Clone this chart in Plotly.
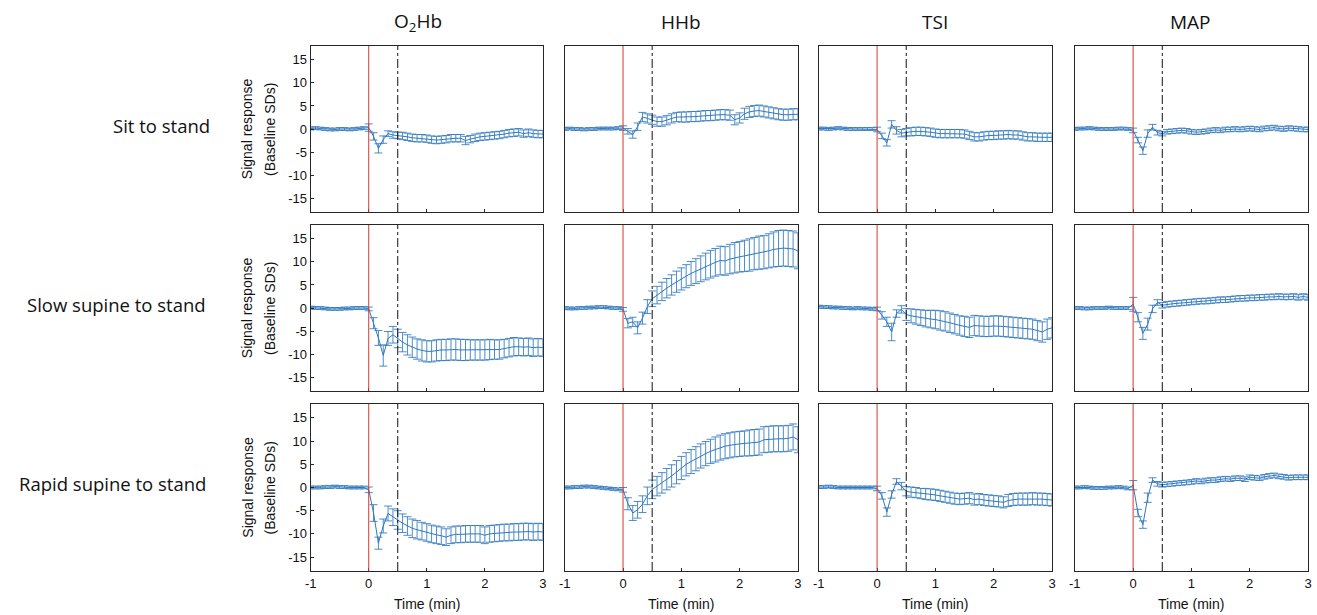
import plotly.graph_objects as go

W, H = 1317, 615

TIME = [-1.0, -0.917, -0.833, -0.75, -0.667, -0.583, -0.5, -0.417, -0.333, -0.25, -0.167, -0.083,
        0.0, 0.083, 0.167, 0.25, 0.333, 0.417, 0.5, 0.583, 0.667, 0.75, 0.833, 0.917,
        1.0, 1.083, 1.167, 1.25, 1.333, 1.417, 1.5, 1.583, 1.667, 1.75, 1.833, 1.917,
        2.0, 2.083, 2.167, 2.25, 2.333, 2.417, 2.5, 2.583, 2.667, 2.75, 2.833, 2.917, 3.0]

SIGNALS = ["O<sub>2</sub>Hb", "HHb", "TSI", "MAP"]
CONDITIONS = ["Sit to stand", "Slow supine to stand", "Rapid supine to stand"]
X_TICKS = [-1, 0, 1, 2, 3]
Y_TICKS = [-15, -10, -5, 0, 5, 10, 15]

# ---- Sit to stand ----
sit_o2hb = [0.1, 0.2, 0.1, 0.0, -0.1, -0.1, 0.0, 0.0, -0.1, 0.0, 0.1, 0.2,
            0.3, -1.6, -4.2, -2.3, -1.0, -1.3, -1.4, -1.5, -1.7, -1.9, -2.0, -2.0,
            -2.1, -2.3, -2.4, -2.3, -2.2, -2.0, -2.0, -2.0, -2.5, -2.2, -1.9, -1.7,
            -1.6, -1.5, -1.4, -1.3, -1.1, -0.9, -0.8, -0.7, -1.0, -0.8, -1.0, -1.1, -1.1]
sit_o2hb_err = [0.3, 0.3, 0.3, 0.3, 0.3, 0.3, 0.3, 0.3, 0.3, 0.3, 0.3, 0.3,
                0.8, 0.8, 1.0, 0.8, 0.6, 0.7, 0.7, 0.8, 0.8, 0.8, 0.8, 0.8,
                0.8, 0.8, 0.8, 0.8, 0.8, 0.8, 0.8, 0.8, 0.9, 0.8, 0.8, 0.8,
                0.8, 0.8, 0.8, 0.8, 0.8, 0.8, 0.8, 0.8, 0.8, 0.8, 0.8, 0.8, 0.8]
sit_hhb = [0.0, 0.1, 0.0, 0.0, -0.1, 0.0, 0.0, 0.1, 0.1, 0.1, 0.1, 0.2,
           0.2, -0.5, -1.2, 0.5, 2.6, 2.3, 2.0, 1.6, 1.6, 1.9, 2.3, 2.6,
           2.6, 2.6, 2.7, 2.7, 2.8, 2.9, 2.9, 3.0, 3.1, 3.1, 3.0, 2.0,
           2.4, 3.3, 3.7, 3.9, 4.0, 3.8, 3.6, 3.4, 3.2, 3.1, 3.1, 3.2, 3.2]
sit_hhb_err = [0.3, 0.3, 0.3, 0.3, 0.3, 0.3, 0.3, 0.3, 0.3, 0.3, 0.3, 0.3,
               0.5, 0.6, 0.8, 0.8, 1.0, 1.0, 1.0, 1.0, 1.0, 1.0, 1.0, 1.0,
               1.1, 1.1, 1.1, 1.1, 1.1, 1.1, 1.1, 1.1, 1.1, 1.1, 1.1, 1.1,
               1.1, 1.2, 1.2, 1.2, 1.2, 1.2, 1.2, 1.2, 1.2, 1.2, 1.2, 1.2, 1.2]
sit_tsi = [0.1, 0.1, 0.0, 0.1, 0.2, 0.1, 0.0, 0.0, 0.0, 0.0, 0.0, 0.0,
           -0.1, -1.5, -3.0, 1.0, -0.3, -0.9, -0.7, -0.6, -0.5, -0.5, -0.6, -0.7,
           -0.9, -1.0, -1.0, -1.0, -1.0, -1.0, -1.1, -1.4, -1.7, -1.7, -1.5, -1.4,
           -1.4, -1.3, -1.3, -1.2, -1.3, -1.3, -1.5, -1.7, -1.7, -1.8, -1.8, -1.8, -1.8]
sit_tsi_err = [0.3, 0.3, 0.3, 0.3, 0.3, 0.3, 0.3, 0.3, 0.3, 0.3, 0.3, 0.3,
               0.5, 0.6, 0.7, 0.8, 0.8, 0.8, 0.8, 0.9, 0.9, 0.9, 0.9, 0.9,
               0.9, 0.9, 0.9, 0.9, 0.9, 0.9, 0.9, 0.9, 0.9, 0.9, 0.9, 0.9,
               0.9, 0.9, 0.9, 0.9, 0.9, 0.9, 0.9, 0.9, 0.9, 0.9, 0.9, 0.9, 0.9]
sit_map = [0.0, 0.1, 0.1, 0.2, 0.1, 0.0, 0.0, 0.0, 0.0, 0.1, 0.1, 0.0,
           -0.3, -2.4, -4.7, -1.0, 0.4, -0.8, -1.0, -0.6, -0.5, -0.4, -0.3, -0.4,
           -0.6, -0.7, -0.6, -0.5, -0.3, -0.2, -0.3, -0.1, -0.1, 0.0, -0.1, 0.0,
           0.1, 0.0, -0.1, 0.1, 0.2, 0.3, 0.1, 0.0, 0.2, 0.1, 0.0, -0.1, -0.1]
sit_map_err = [0.3, 0.3, 0.3, 0.3, 0.3, 0.3, 0.3, 0.3, 0.3, 0.3, 0.3, 0.3,
               0.5, 0.6, 0.8, 0.8, 0.6, 0.5, 0.5, 0.5, 0.5, 0.5, 0.5, 0.5,
               0.5, 0.5, 0.5, 0.5, 0.5, 0.5, 0.5, 0.5, 0.5, 0.5, 0.5, 0.5,
               0.5, 0.5, 0.5, 0.5, 0.5, 0.5, 0.5, 0.5, 0.5, 0.5, 0.5, 0.5, 0.5]

# ---- Slow supine to stand ----
slow_o2hb = [0.1, 0.0, 0.0, -0.1, -0.2, -0.2, -0.2, -0.1, -0.1, 0.0, 0.0, 0.0,
             -0.2, -3.3, -6.5, -10.3, -6.6, -5.8, -6.6, -7.4, -8.0, -8.5, -8.9, -9.2,
             -9.4, -9.4, -9.2, -9.1, -9.1, -9.0, -9.0, -9.1, -9.1, -9.1, -9.1, -9.1,
             -9.1, -9.0, -9.0, -9.0, -8.8, -8.6, -8.4, -8.4, -8.5, -8.4, -8.6, -8.5, -8.6]
slow_o2hb_err = [0.3, 0.3, 0.3, 0.3, 0.3, 0.3, 0.3, 0.3, 0.3, 0.3, 0.3, 0.3,
                 0.4, 1.2, 1.6, 2.3, 1.5, 1.8, 2.0, 2.1, 2.2, 2.2, 2.2, 2.3,
                 2.3, 2.3, 2.3, 2.3, 2.3, 2.3, 2.3, 2.3, 2.3, 2.2, 2.2, 2.2,
                 2.2, 2.2, 2.1, 2.1, 2.0, 2.0, 2.0, 1.9, 1.9, 1.9, 1.9, 1.9, 1.9]
slow_hhb = [0.0, -0.1, -0.1, 0.0, 0.0, 0.1, 0.1, 0.2, 0.2, 0.1, 0.0, 0.0,
            -0.3, -3.3, -3.0, -4.3, -2.2, 0.3, 2.0, 2.8, 3.6, 4.3, 5.0, 5.7,
            6.3, 6.9, 7.5, 8.0, 8.5, 9.0, 9.5, 9.9, 10.3, 10.2, 10.6, 10.9,
            11.1, 11.3, 11.5, 11.8, 12.0, 12.1, 12.4, 12.7, 12.9, 13.0, 12.9, 12.8, 12.4]
slow_hhb_err = [0.3, 0.3, 0.3, 0.3, 0.3, 0.3, 0.3, 0.3, 0.3, 0.3, 0.3, 0.3,
                0.4, 1.0, 1.0, 1.3, 1.3, 1.5, 1.7, 1.9, 2.0, 2.1, 2.2, 2.3,
                2.4, 2.5, 2.6, 2.7, 2.8, 2.9, 3.0, 3.0, 3.1, 3.1, 3.2, 3.3,
                3.3, 3.4, 3.5, 3.5, 3.6, 3.6, 3.7, 3.8, 3.9, 3.9, 3.9, 3.9, 3.9]
slow_tsi = [0.3, 0.2, 0.2, 0.1, 0.1, 0.0, 0.0, -0.1, 0.0, -0.1, -0.1, -0.2,
            -0.2, -1.6, -3.0, -5.2, -1.2, -0.3, -1.4, -1.7, -1.9, -2.1, -2.3, -2.4,
            -2.5, -2.7, -2.9, -3.2, -3.5, -3.8, -4.0, -4.2, -3.8, -3.9, -4.0, -4.0,
            -3.9, -3.9, -4.0, -4.1, -4.2, -4.3, -4.4, -4.5, -4.6, -4.9, -5.2, -4.6, -4.3]
slow_tsi_err = [0.3, 0.3, 0.3, 0.3, 0.3, 0.3, 0.3, 0.3, 0.3, 0.3, 0.3, 0.3,
                0.4, 0.8, 1.0, 1.9, 0.8, 0.8, 1.3, 1.5, 1.6, 1.7, 1.8, 1.9,
                2.0, 2.1, 2.1, 2.1, 2.1, 2.1, 2.2, 2.2, 2.2, 2.2, 2.2, 2.2,
                2.2, 2.2, 2.2, 2.2, 2.2, 2.2, 2.2, 2.2, 2.2, 2.2, 2.2, 2.2, 2.2]
slow_map = [0.0, 0.0, -0.1, -0.1, 0.0, 0.0, 0.0, 0.1, 0.0, 0.0, 0.0, 0.0,
            0.8, -2.0, -5.5, -3.5, -0.2, 1.2, 0.6, 0.8, 0.9, 1.0, 1.1, 1.2,
            1.3, 1.4, 1.5, 1.5, 1.6, 1.7, 1.8, 1.8, 1.9, 2.0, 2.1, 2.1,
            2.2, 2.2, 2.3, 2.3, 2.4, 2.4, 2.5, 2.4, 2.4, 2.5, 2.3, 2.5, 2.3]
slow_map_err = [0.3, 0.3, 0.3, 0.3, 0.3, 0.3, 0.3, 0.3, 0.3, 0.3, 0.3, 0.3,
                1.5, 1.0, 1.3, 1.3, 0.8, 0.6, 0.6, 0.6, 0.6, 0.6, 0.6, 0.6,
                0.6, 0.6, 0.6, 0.6, 0.6, 0.6, 0.6, 0.6, 0.6, 0.6, 0.6, 0.6,
                0.6, 0.6, 0.6, 0.6, 0.6, 0.6, 0.6, 0.6, 0.6, 0.6, 0.6, 0.6, 0.6]

# ---- Rapid supine to stand ----
rapid_o2hb = [0.0, 0.0, 0.0, 0.1, 0.1, 0.2, 0.1, 0.1, 0.0, 0.0, 0.0, 0.0,
              -0.5, -5.5, -12.0, -8.3, -5.6, -6.4, -7.0, -7.7, -8.3, -8.8, -9.1, -9.4,
              -9.7, -10.0, -10.2, -10.4, -10.7, -10.3, -10.1, -10.1, -10.0, -10.0, -10.0, -10.0,
              -10.3, -10.0, -9.9, -9.8, -9.7, -9.7, -9.6, -9.6, -9.5, -9.5, -9.6, -9.5, -9.6]
rapid_o2hb_err = [0.3, 0.3, 0.3, 0.3, 0.3, 0.3, 0.3, 0.3, 0.3, 0.3, 0.3, 0.3,
                  0.6, 1.8, 1.3, 1.5, 1.6, 1.8, 2.0, 2.0, 2.0, 2.0, 2.0, 1.9,
                  1.9, 1.9, 1.9, 1.9, 1.8, 1.8, 1.8, 1.8, 1.8, 1.8, 1.8, 1.8,
                  1.8, 1.8, 1.8, 1.8, 1.8, 1.8, 1.8, 1.8, 1.8, 1.8, 1.8, 1.8, 1.8]
rapid_hhb = [0.0, 0.0, 0.1, 0.1, 0.2, 0.2, 0.1, 0.0, -0.1, -0.2, -0.3, -0.4,
             -0.5, -3.5, -5.5, -4.8, -3.6, -1.8, -0.4, 0.3, 1.0, 1.8, 2.5, 3.3,
             4.2, 5.0, 5.6, 6.2, 6.8, 7.3, 7.8, 8.2, 8.6, 8.9, 9.1, 9.3,
             9.4, 9.5, 9.6, 9.7, 9.8, 10.3, 10.4, 10.5, 10.5, 10.5, 10.6, 10.9, 10.3]
rapid_hhb_err = [0.3, 0.3, 0.3, 0.3, 0.3, 0.3, 0.3, 0.3, 0.3, 0.3, 0.3, 0.3,
                 0.5, 1.3, 1.6, 1.8, 1.8, 1.9, 2.0, 2.1, 2.2, 2.3, 2.4, 2.5,
                 2.5, 2.5, 2.6, 2.6, 2.6, 2.6, 2.6, 2.7, 2.7, 2.7, 2.7, 2.7,
                 2.7, 2.7, 2.8, 2.8, 2.8, 2.8, 2.8, 2.8, 2.8, 2.8, 2.8, 2.8, 2.8]
rapid_tsi = [0.1, 0.1, 0.2, 0.1, 0.0, 0.0, 0.0, 0.0, 0.0, 0.0, 0.0, 0.0,
             -0.2, -1.8, -5.3, -1.5, 1.3, 0.3, -0.8, -1.0, -1.1, -1.3, -1.4, -1.5,
             -1.6, -1.8, -2.0, -2.2, -2.4, -2.5, -2.4, -2.3, -2.6, -2.5, -2.7, -2.8,
             -2.9, -3.0, -3.2, -2.8, -2.6, -2.5, -2.5, -2.5, -2.4, -2.5, -2.5, -2.6, -2.7]
rapid_tsi_err = [0.3, 0.3, 0.3, 0.3, 0.3, 0.3, 0.3, 0.3, 0.3, 0.3, 0.3, 0.3,
                 0.5, 0.7, 0.9, 0.8, 0.6, 0.8, 1.0, 1.1, 1.1, 1.1, 1.2, 1.2,
                 1.2, 1.2, 1.2, 1.2, 1.2, 1.2, 1.2, 1.2, 1.2, 1.2, 1.2, 1.2,
                 1.2, 1.2, 1.2, 1.3, 1.3, 1.3, 1.3, 1.3, 1.3, 1.3, 1.3, 1.3, 1.3]
rapid_map = [0.0, 0.0, 0.1, 0.0, -0.1, -0.1, -0.1, 0.0, 0.0, 0.1, 0.0, -0.2,
             0.5, -5.5, -8.0, -2.2, 1.6, 0.8, 0.6, 0.7, 0.8, 0.9, 1.0, 1.1,
             1.2, 1.4, 1.3, 1.5, 1.6, 1.6, 1.8, 1.9, 1.8, 2.0, 2.0, 1.8,
             2.2, 2.1, 2.0, 2.3, 2.5, 2.6, 2.4, 2.3, 2.1, 2.2, 2.2, 2.2, 2.2]
rapid_map_err = [0.3, 0.3, 0.3, 0.3, 0.3, 0.3, 0.3, 0.3, 0.3, 0.3, 0.3, 0.3,
                 1.0, 0.8, 0.8, 1.0, 0.5, 0.5, 0.5, 0.5, 0.5, 0.5, 0.5, 0.5,
                 0.5, 0.5, 0.5, 0.5, 0.5, 0.5, 0.5, 0.5, 0.5, 0.5, 0.5, 0.5,
                 0.5, 0.5, 0.5, 0.5, 0.5, 0.5, 0.5, 0.5, 0.5, 0.5, 0.5, 0.5, 0.5]

PANELS = [
    [(sit_o2hb, sit_o2hb_err), (sit_hhb, sit_hhb_err), (sit_tsi, sit_tsi_err), (sit_map, sit_map_err)],
    [(slow_o2hb, slow_o2hb_err), (slow_hhb, slow_hhb_err), (slow_tsi, slow_tsi_err), (slow_map, slow_map_err)],
    [(rapid_o2hb, rapid_o2hb_err), (rapid_hhb, rapid_hhb_err), (rapid_tsi, rapid_tsi_err), (rapid_map, rapid_map_err)],
]

# layout geometry (pixels)
COL_PX = [(307, 541), (563, 798), (819, 1054), (1077, 1312)]
ROW_PX = [(46, 212), (225, 391), (404, 571)]
ROW_LABEL_RIGHT = [208, 204, 204]

LINE_C = "#2F78BE"
ERR_C = "rgba(47,120,190,0.85)"
AXIS_C = "#262626"
TICK_FONT = dict(family="Liberation Sans, Arial", size=13, color="#111")

fig = go.Figure()
layout = {}
annotations = []
shapes = []

for r in range(3):
    for c in range(4):
        idx = r * 4 + c + 1
        xa = "x" if idx == 1 else f"x{idx}"
        ya = "y" if idx == 1 else f"y{idx}"
        xkey = "xaxis" if idx == 1 else f"xaxis{idx}"
        ykey = "yaxis" if idx == 1 else f"yaxis{idx}"
        vals, errs = PANELS[r][c]
        fig.add_trace(go.Scatter(
            x=TIME, y=vals, mode="lines", xaxis=xa, yaxis=ya,
            line=dict(color=LINE_C, width=1),
            error_y=dict(type="data", array=errs, visible=True, color=ERR_C, thickness=1, width=4),
            showlegend=False, hoverinfo="skip"))
        x0, x1 = COL_PX[c]
        y0, y1 = ROW_PX[r]
        layout[xkey] = dict(
            domain=[x0 / W, x1 / W], range=[-1, 3], anchor=ya,
            tickvals=X_TICKS, ticktext=[str(v) for v in X_TICKS],
            showticklabels=(r == 2), ticks="inside", ticklen=3, tickcolor=AXIS_C,
            showline=True, linecolor=AXIS_C, linewidth=1, mirror=True,
            showgrid=False, zeroline=False, tickfont=TICK_FONT)
        layout[ykey] = dict(
            domain=[1 - y1 / H, 1 - y0 / H], range=[-18, 18], anchor=xa,
            tickvals=Y_TICKS, ticktext=[str(v) for v in Y_TICKS],
            showticklabels=(c == 0), ticks="inside" if c == 0 else "", ticklen=3, tickcolor=AXIS_C,
            showline=True, linecolor=AXIS_C, linewidth=1, mirror=True,
            showgrid=False, zeroline=False, tickfont=TICK_FONT)
        shapes.append(dict(type="line", xref=xa, yref=f"{ya} domain", x0=0, x1=0, y0=0, y1=1,
                           line=dict(color="#D8382C", width=1)))
        shapes.append(dict(type="line", xref=xa, yref=f"{ya} domain", x0=0.5, x1=0.5, y0=0, y1=1,
                           line=dict(color="#111", width=1, dash="dashdot")))

# column titles
TITLE_X = [415, 680, 936, 1194]
for c, name in enumerate(SIGNALS):
    annotations.append(dict(text=name, x=TITLE_X[c] / W, y=1 - 22 / H,
                            xref="paper", yref="paper", showarrow=False,
                            font=dict(family="Open Sans", size=19, color="#111"),
                            xanchor="center", yanchor="middle"))

# row labels + y titles
for r, name in enumerate(CONDITIONS):
    y0, y1 = ROW_PX[r]
    yc = (y0 + y1) / 2
    annotations.append(dict(text=name, x=ROW_LABEL_RIGHT[r] / W, y=1 - (yc - 4) / H,
                            xref="paper", yref="paper",
                            showarrow=False, xanchor="right", yanchor="middle",
                            font=dict(family="Open Sans", size=18.5, color="#111")))
    annotations.append(dict(text="Signal response", x=243 / W, y=1 - yc / H,
                            xref="paper", yref="paper", showarrow=False, textangle=-90,
                            xanchor="center", yanchor="middle",
                            font=dict(family="Liberation Sans, Arial", size=14, color="#111")))
    annotations.append(dict(text="(Baseline SDs)", x=266 / W, y=1 - yc / H,
                            xref="paper", yref="paper", showarrow=False, textangle=-90,
                            xanchor="center", yanchor="middle",
                            font=dict(family="Liberation Sans, Arial", size=14, color="#111")))

# x titles
for c in range(4):
    x0, x1 = COL_PX[c]
    annotations.append(dict(text="Time (min)", x=(x0 + x1) / 2 / W, y=1 - 604 / H,
                            xref="paper", yref="paper", showarrow=False,
                            xanchor="center", yanchor="middle",
                            font=dict(family="Liberation Sans, Arial", size=14, color="#111")))

fig.update_layout(**layout)
fig.update_layout(width=W, height=H, margin=dict(l=0, r=0, t=0, b=0),
                  paper_bgcolor="white", plot_bgcolor="white",
                  annotations=annotations, shapes=shapes)

fig.write_html("out.html", config={"displayModeBar": False},
               post_script="document.body.style.margin='0px';")
